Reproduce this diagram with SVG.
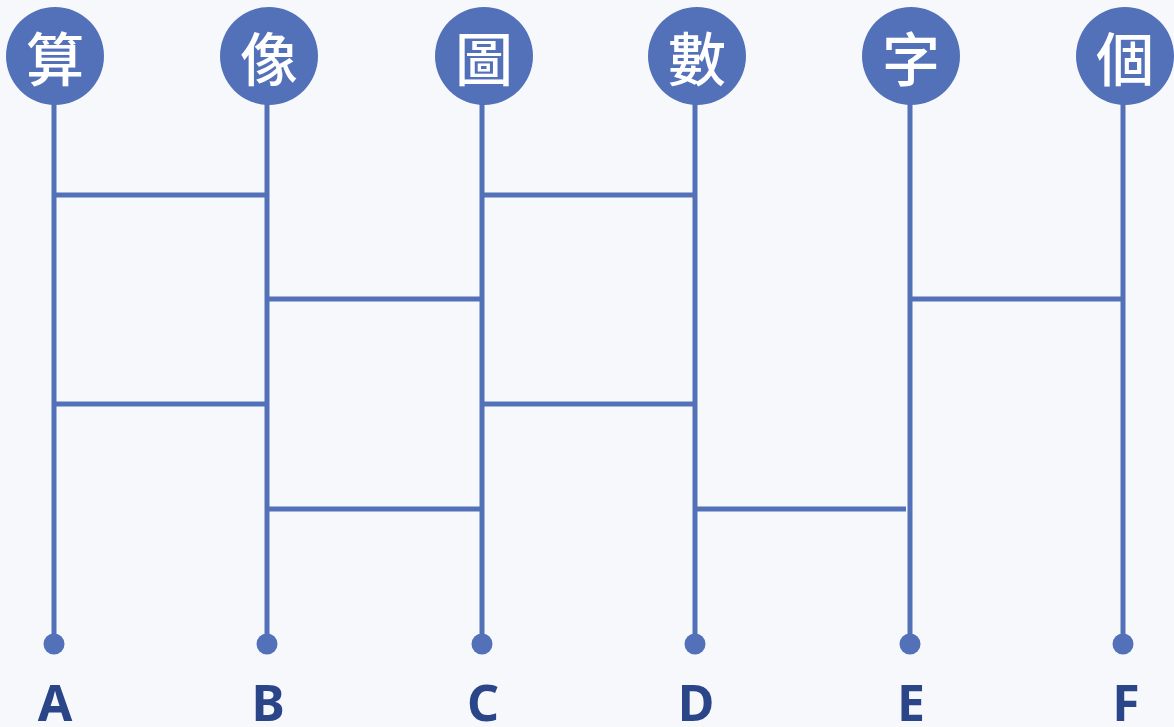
<svg xmlns="http://www.w3.org/2000/svg" width="1174" height="727" viewBox="0 0 1174 727">
<style>
.bg{fill:#f7f8fc}
.ln{stroke:#5271b8;stroke-width:5;fill:none}
.node{fill:#5271b8}
.dot{fill:#5271b8}
.cj{font-family:"Noto Sans CJK TC","Noto Sans CJK SC",sans-serif;font-size:58px;font-weight:500;fill:#ffffff;text-anchor:middle;dominant-baseline:central}
.lb{font-family:"Noto Sans","Open Sans",sans-serif;font-size:50px;font-weight:700;fill:#2b4589;text-anchor:middle}
</style>
<rect class="bg" x="0" y="0" width="1174" height="727"/>
<g id="connectors">
<line class="ln" x1="54" y1="90" x2="54" y2="644"/>
<line class="ln" x1="267" y1="90" x2="267" y2="644"/>
<line class="ln" x1="482" y1="90" x2="482" y2="644"/>
<line class="ln" x1="695" y1="90" x2="695" y2="644"/>
<line class="ln" x1="910" y1="90" x2="910" y2="644"/>
<line class="ln" x1="1123" y1="90" x2="1123" y2="644"/>
<line class="ln" x1="54" y1="195" x2="265" y2="195"/>
<line class="ln" x1="482" y1="195" x2="693" y2="195"/>
<line class="ln" x1="267" y1="299" x2="480" y2="299"/>
<line class="ln" x1="910" y1="299" x2="1121" y2="299"/>
<line class="ln" x1="54" y1="404" x2="265" y2="404"/>
<line class="ln" x1="482" y1="404" x2="693" y2="404"/>
<line class="ln" x1="267" y1="509" x2="480" y2="509"/>
<line class="ln" x1="695" y1="509" x2="906" y2="509"/>
</g>
<g id="node-A"><circle class="node" cx="55" cy="56" r="49"/><text class="cj" x="55" y="56">算</text><circle class="dot" cx="54" cy="644" r="10.5"/><text class="lb" x="55" y="721">A</text></g>
<g id="node-B"><circle class="node" cx="269" cy="56" r="49"/><text class="cj" x="269" y="56">像</text><circle class="dot" cx="267" cy="644" r="10.5"/><text class="lb" x="268" y="721">B</text></g>
<g id="node-C"><circle class="node" cx="484" cy="56" r="49"/><text class="cj" x="484" y="56">圖</text><circle class="dot" cx="482" cy="644" r="10.5"/><text class="lb" x="483" y="721">C</text></g>
<g id="node-D"><circle class="node" cx="697" cy="56" r="49"/><text class="cj" x="697" y="56">數</text><circle class="dot" cx="695" cy="644" r="10.5"/><text class="lb" x="696" y="721">D</text></g>
<g id="node-E"><circle class="node" cx="911" cy="56" r="49"/><text class="cj" x="911" y="56">字</text><circle class="dot" cx="910" cy="644" r="10.5"/><text class="lb" x="911" y="721">E</text></g>
<g id="node-F"><circle class="node" cx="1125" cy="56" r="49"/><text class="cj" x="1125" y="56">個</text><circle class="dot" cx="1123" cy="644" r="10.5"/><text class="lb" x="1126" y="721">F</text></g>
</svg>
